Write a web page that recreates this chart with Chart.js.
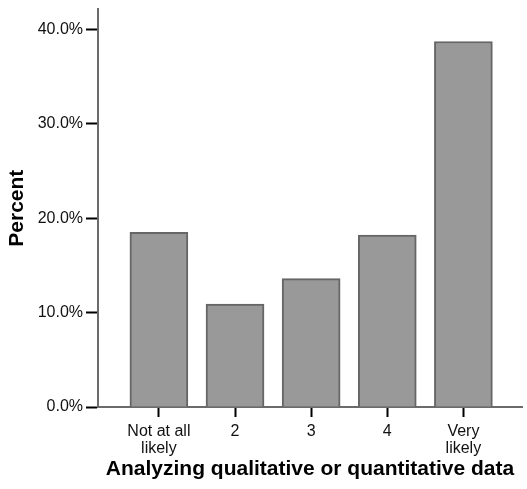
<!DOCTYPE html>
<html>
<head>
<meta charset="utf-8">
<script src="https://cdn.jsdelivr.net/npm/chart.js@4/dist/chart.umd.min.js"></script>
<style>
  html, body { margin: 0; padding: 0; background: #fff; }
  #wrap { width: 527px; height: 489px; }
</style>
</head>
<body>
<div id="wrap"><canvas id="chart" width="527" height="489"></canvas></div>
<script>
// dados
const categories = ['Not at all likely', '2', '3', '4', 'Very likely'];
const tickLabels = [['Not at all', 'likely'], '2', '3', '4', ['Very', 'likely']];
const percent = [18.5, 10.9, 13.6, 18.2, 38.7];
const yTicks = [0, 10, 20, 30, 40];

const FONT = '"Liberation Sans", Arial, Helvetica, sans-serif';
const AXIS_GRAY = '#6b6b6b';

new Chart(document.getElementById('chart'), {
  type: 'bar',
  data: {
    datasets: [{
      data: categories.map((c, i) => ({x: i, y: percent[i]})),
      backgroundColor: '#999999',
      borderColor: '#666666',
      borderWidth: 2,
      barThickness: 58
    }]
  },
  options: {
    responsive: false,
    animation: false,
    layout: {padding: {top: 7, right: 5, left: 0, bottom: 0}},
    plugins: {legend: {display: false}, tooltip: {enabled: false}},
    scales: {
      x: {
        type: 'linear',
        offset: false,
        min: -0.8,
        max: 4.77,
        afterBuildTicks: s => { s.ticks = categories.map((_, i) => ({value: i})); },
        afterFit: s => { s.height = 82; },
        grid: {offset: false, drawOnChartArea: false, tickLength: 10, tickColor: '#000', tickWidth: 2},
        border: {color: AXIS_GRAY, width: 2},
        ticks: {
          padding: 6,
          color: '#111',
          font: {family: FONT, size: 16, lineHeight: 1.05},
          maxRotation: 0,
          callback: v => tickLabels[v]
        },
        title: {
          display: true,
          text: 'Analyzing qualitative or quantitative data',
          color: '#000',
          font: {family: FONT, size: 21, weight: 'bold'},
          padding: {top: 0, bottom: 7}
        }
      },
      y: {
        min: 0,
        max: 42.1,
        afterBuildTicks: s => { s.ticks = yTicks.map(v => ({value: v})); },
        afterFit: s => { s.width = 98; },
        grid: {drawOnChartArea: false, tickLength: 12, tickColor: '#000', tickWidth: 2},
        border: {color: AXIS_GRAY, width: 2},
        ticks: {
          padding: 3,
          color: '#111',
          font: {family: FONT, size: 16, lineHeight: 0.8},
          callback: v => v.toFixed(1) + '%'
        },
        title: {
          display: true,
          text: 'Percent',
          color: '#000',
          font: {family: FONT, size: 21, weight: 'bold'},
          padding: {top: 5, bottom: 0}
        }
      }
    }
  }
});
</script>
</body>
</html>
